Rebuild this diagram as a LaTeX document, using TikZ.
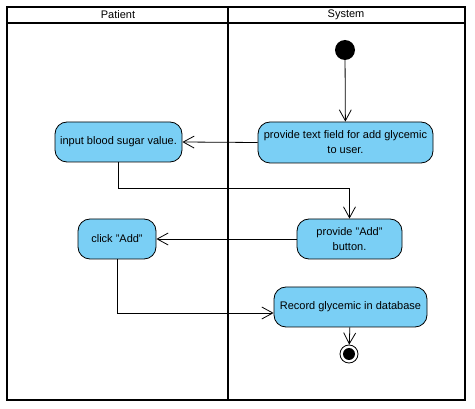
\documentclass[tikz,border=0pt]{standalone}
\usepackage{fontspec}
\setmainfont{Liberation Sans}
\usetikzlibrary{arrows.meta}
\definecolor{actblue}{HTML}{7ACFF5}

\begin{document}
\begin{tikzpicture}[x=1pt,y=-1pt]
\tikzstyle{lane border} = [draw, color=black, line width=1.6pt]
\tikzstyle{lane title} = [font=\fontsize{11}{13}\selectfont]
\tikzstyle{action} = [draw, color=black, fill=actblue, rounded corners=12pt, align=center, inner sep=1pt, font=\fontsize{11}{15}\selectfont, line width=0.8pt]
\tikzstyle{initial} = [circle, fill=black, minimum size=20pt, inner sep=0pt]
\tikzstyle{final} = [circle, draw, line width=0.8pt, minimum size=18pt, inner sep=0pt, path picture={\fill[black] (path picture bounding box.center) circle (6pt);}]
\tikzstyle{flow} = [draw, line width=0.8pt, -{Straight Barb[length=11pt,width=12pt]}]
\useasboundingbox (0,0) rectangle (475,409);
% swimlanes
\path[lane border] (7,7) rectangle (465,400);
\path[lane border] (7,23) -- (465,23);
\path[lane border] (228,7) -- (228,400);
\node[lane title] (t_patient) at (118,15) {Patient};
\node[lane title] (t_system) at (346,15) {System};
% activities
\node[initial] (v_start) at (345,50) {};
\node[action, minimum width=175pt, minimum height=41pt] (a_field) at (345.5,142.5) {provide text field for add glycemic\\to user.};
\node[action, minimum width=127pt, minimum height=40pt] (a_input) at (118.5,142) {input blood sugar value.};
\node[action, minimum width=105pt, minimum height=40pt] (a_button) at (349.5,239) {provide "Add"\\button.};
\node[action, minimum width=78pt, minimum height=40pt] (a_click) at (117,239) {click "Add"};
\node[action, minimum width=153pt, minimum height=40pt] (a_record) at (350.5,307) {Record glycemic in database};
\node[final] (v_end) at (349,354) {};
\coordinate (c_turn1) at (0,188);
\coordinate (c_turn2) at (0,313);
% control flows
\path[flow] (v_start) -- (a_field);
\path[flow] (a_field.west) -- (a_input.east);
\path[flow] (a_input.south) -- (a_input.south |- c_turn1) -| (a_button.north);
\path[flow] (a_button.west) -- (a_click.east);
\path[flow] (a_click.south) |- (a_record.west |- c_turn2);
\path[flow] (a_record) -- (v_end);
\end{tikzpicture}
\end{document}
